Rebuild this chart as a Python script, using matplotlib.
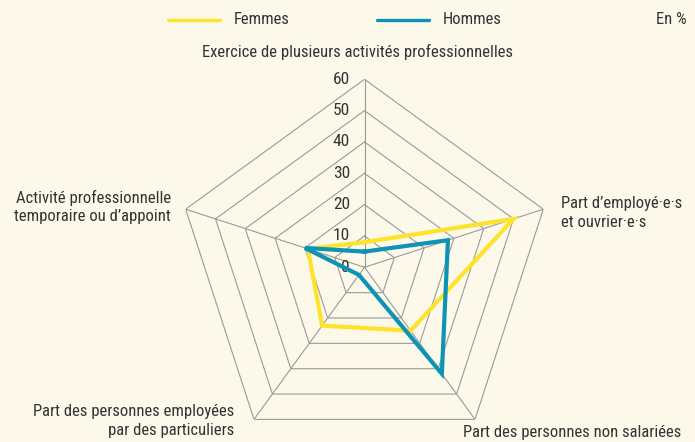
import numpy as np
import matplotlib
matplotlib.use("Agg")
import matplotlib.pyplot as plt

# axes of the radar, clockwise from the top
axes_labels = [
    "Exercice de plusieurs activités professionnelles",
    "Part d\u2019employé\u00b7e\u00b7s\net ouvrier\u00b7e\u00b7s",
    "Part des personnes non salariées",
    "Part des personnes employées\npar des particuliers",
    "Activité professionnelle\ntemporaire ou d\u2019appoint",
]
femmes = [8, 50, 25, 23, 19]
hommes = [5, 28, 42, 3, 20]
ring_values = [10, 20, 30, 40, 50, 60]
tick_labels = ["0", "10", "20", "30", "40", "50", "60"]

bg = "#fcf9ea"
yellow = "#fde32b"
blue = "#0d93b6"
grid = "#9a9a9a"
txt = "#333333"

plt.rcParams["font.family"] = ["Roboto Condensed", "Archivo Narrow",
                               "Liberation Sans Narrow", "DejaVu Sans"]

W, H = 695, 442
fig = plt.figure(figsize=(W / 100, H / 100), dpi=100, facecolor=bg)

# polar axes: center (364, 267) px, radius 188 px
cx, cy, R = 364.5, 267.3, 188.0
ax = fig.add_axes([(cx - R) / W, (H - cy - R) / H, 2 * R / W, 2 * R / H],
                  projection="polar")
ax.set_facecolor("none")
ax.set_theta_offset(np.pi / 2)
ax.set_theta_direction(-1)
ax.set_ylim(0, 60)
ax.grid(False)
ax.spines["polar"].set_visible(False)
ax.set_xticks([])
ax.set_yticks([])

n = len(axes_labels)
theta = np.arange(n) * 2 * np.pi / n
theta_c = np.append(theta, theta[0])

# pentagon rings and spokes
for r in ring_values:
    ax.plot(theta_c, [r] * (n + 1), color=grid, lw=0.8, zorder=1)
for t in theta:
    ax.plot([t, t], [0, 60], color=grid, lw=0.8, zorder=1)

# series
ax.plot(theta_c, femmes + femmes[:1], color=yellow, lw=3, zorder=3,
        solid_joinstyle="miter")
ax.plot(theta_c, hommes + hommes[:1], color=blue, lw=3, zorder=4,
        solid_joinstyle="miter")

# radial tick labels along the top axis
for i, lab in enumerate(tick_labels):
    ax.annotate(lab, xy=(0, i * 10), xytext=(-10.5, 0), textcoords="offset points",
                ha="right", va="center", fontsize=12.5, color=txt)

fs = 12
fig.text(358 / W, 1 - 52 / H, axes_labels[0], ha="center", va="center",
         fontsize=fs, color=txt)
fig.text(561 / W, 1 - 213 / H, axes_labels[1], ha="left", va="center",
         fontsize=fs, color=txt, linespacing=1.3)
fig.text(681 / W, 1 - 432 / H, axes_labels[2], ha="right", va="center",
         fontsize=fs, color=txt)
fig.text(234 / W, 1 - 421 / H, axes_labels[3], ha="right", va="center",
         fontsize=fs, color=txt, multialignment="right", linespacing=1.3)
fig.text(171 / W, 1 - 207 / H, axes_labels[4], ha="right", va="center",
         fontsize=fs, color=txt, multialignment="right", linespacing=1.3)

# legend
fig.lines.append(plt.Line2D([168 / W, 220 / W], [1 - 19.5 / H] * 2,
                            transform=fig.transFigure, color=yellow, lw=2.4,
                            solid_capstyle="round"))
fig.text(234 / W, 1 - 20 / H, "Femmes", ha="left", va="center",
         fontsize=fs, color=txt)
fig.lines.append(plt.Line2D([377 / W, 429 / W], [1 - 19.5 / H] * 2,
                            transform=fig.transFigure, color=blue, lw=2.4,
                            solid_capstyle="round"))
fig.text(443 / W, 1 - 20 / H, "Hommes", ha="left", va="center",
         fontsize=fs, color=txt)
fig.text(687 / W, 1 - 20 / H, "En %", ha="right", va="center",
         fontsize=fs, color=txt)

fig.savefig("out.png", dpi=100, facecolor=bg)
